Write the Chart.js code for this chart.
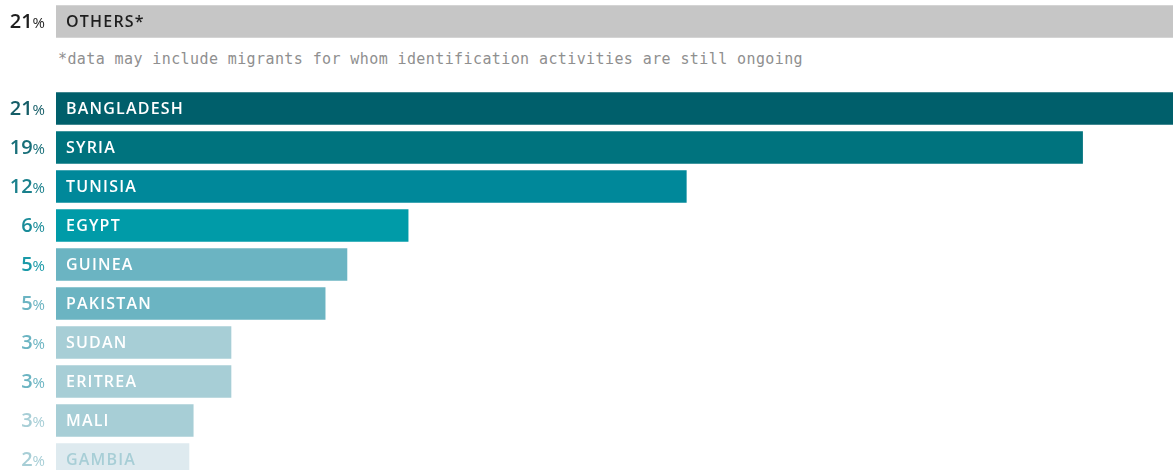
<!DOCTYPE html>
<html>
<head>
<meta charset="utf-8">
<script src="https://cdn.jsdelivr.net/npm/chart.js@4"></script>
<style>
  body { margin: 0; background: #fff; width: 1173px; height: 470px; overflow: hidden; position: relative; }
  #top { position: absolute; left: 0; top: 0; }
  #bars { position: absolute; left: 0; top: 89px; }
  #note { position: absolute; left: 58px; top: 49px; font: 15px "DejaVu Sans Mono", monospace; letter-spacing: 0.4px; line-height: 20px; color: #8f8f8f; white-space: nowrap; }
</style>
</head>
<body>
<canvas id="top" width="1173" height="43"></canvas>
<div id="note"></div>
<canvas id="bars" width="1173" height="390"></canvas>
<script>
// data
const otherLabels = ["OTHERS*"]
const otherValues = [21]
const otherPct = ["21"]
const note = "*data may include migrants for whom identification activities are still ongoing"

const countries = ["BANGLADESH", "SYRIA", "TUNISIA", "EGYPT", "GUINEA", "PAKISTAN", "SUDAN", "ERITREA", "MALI", "GAMBIA"]
const shares = [21, 19.3, 11.85, 6.62, 5.47, 5.06, 3.29, 3.29, 2.58, 2.5]
const pctLabels = ["21", "19", "12", "6", "5", "5", "3", "3", "3", "2"]

// colours
const barColors = ["#005f6b", "#00737e", "#00889a", "#009ba8", "#6bb4c2", "#6bb4c2", "#a7ced6", "#a7ced6", "#a7ced6", "#deeaef"]
const pctColors = ["#155d67", "#186f79", "#1a808c", "#1a8c99", "#1a9aa8", "#6bb4c2", "#6bb4c2", "#6bb4c2", "#a7ced6", "#a7ced6"]
const nameColors = ["#fff", "#fff", "#fff", "#fff", "#fff", "#fff", "#fff", "#fff", "#fff", "#a7ced6"]

document.getElementById("note").textContent = note

const xMax = 21
const family = "'Open Sans'"

const labelPlugin = {
  id: "rowLabels",
  afterDatasetsDraw(chart, args, opts) {
    const ctx = chart.ctx
    const meta = chart.getDatasetMeta(0)
    ctx.save()
    meta.data.forEach((bar, i) => {
      ctx.textBaseline = "middle"
      // country name inside the bar
      ctx.letterSpacing = "1.2px"
      ctx.font = "600 16px " + family
      ctx.fillStyle = opts.nameColors[i]
      ctx.textAlign = "left"
      ctx.fillText(chart.data.labels[i], bar.base + 10, bar.y + 1)
      // percentage on the left
      ctx.letterSpacing = "0px"
      ctx.fillStyle = opts.pctColors[i]
      ctx.textAlign = "right"
      ctx.font = "15px " + family
      ctx.fillText("%", 45, bar.y + 2)
      let w = ctx.measureText("%").width
      ctx.font = "600 20px " + family
      ctx.fillText(opts.pct[i], 45 - w, bar.y + 1)
    })
    ctx.restore()
  }
}

function makeChart(id, labels, values, colors, pct, pctCols, nameCols) {
  return new Chart(document.getElementById(id), {
    type: "bar",
    data: {
      labels: labels,
      datasets: [{
        data: values,
        backgroundColor: colors,
        barThickness: 32,
        borderWidth: 0
      }]
    },
    options: {
      indexAxis: "y",
      responsive: false,
      animation: false,
      layout: { padding: { left: 56, right: 0, top: 0, bottom: 0 } },
      scales: {
        x: { display: false, min: 0, max: xMax },
        y: { display: false }
      },
      plugins: {
        legend: { display: false },
        tooltip: { enabled: false },
        rowLabels: { pct: pct, pctColors: pctCols, nameColors: nameCols }
      }
    },
    plugins: [labelPlugin]
  })
}

makeChart("top", otherLabels, otherValues, ["#c6c6c6"], otherPct, ["#1e1e1e"], ["#1e1e1e"])
makeChart("bars", countries, shares, barColors, pctLabels, pctColors, nameColors)
</script>
</body>
</html>
